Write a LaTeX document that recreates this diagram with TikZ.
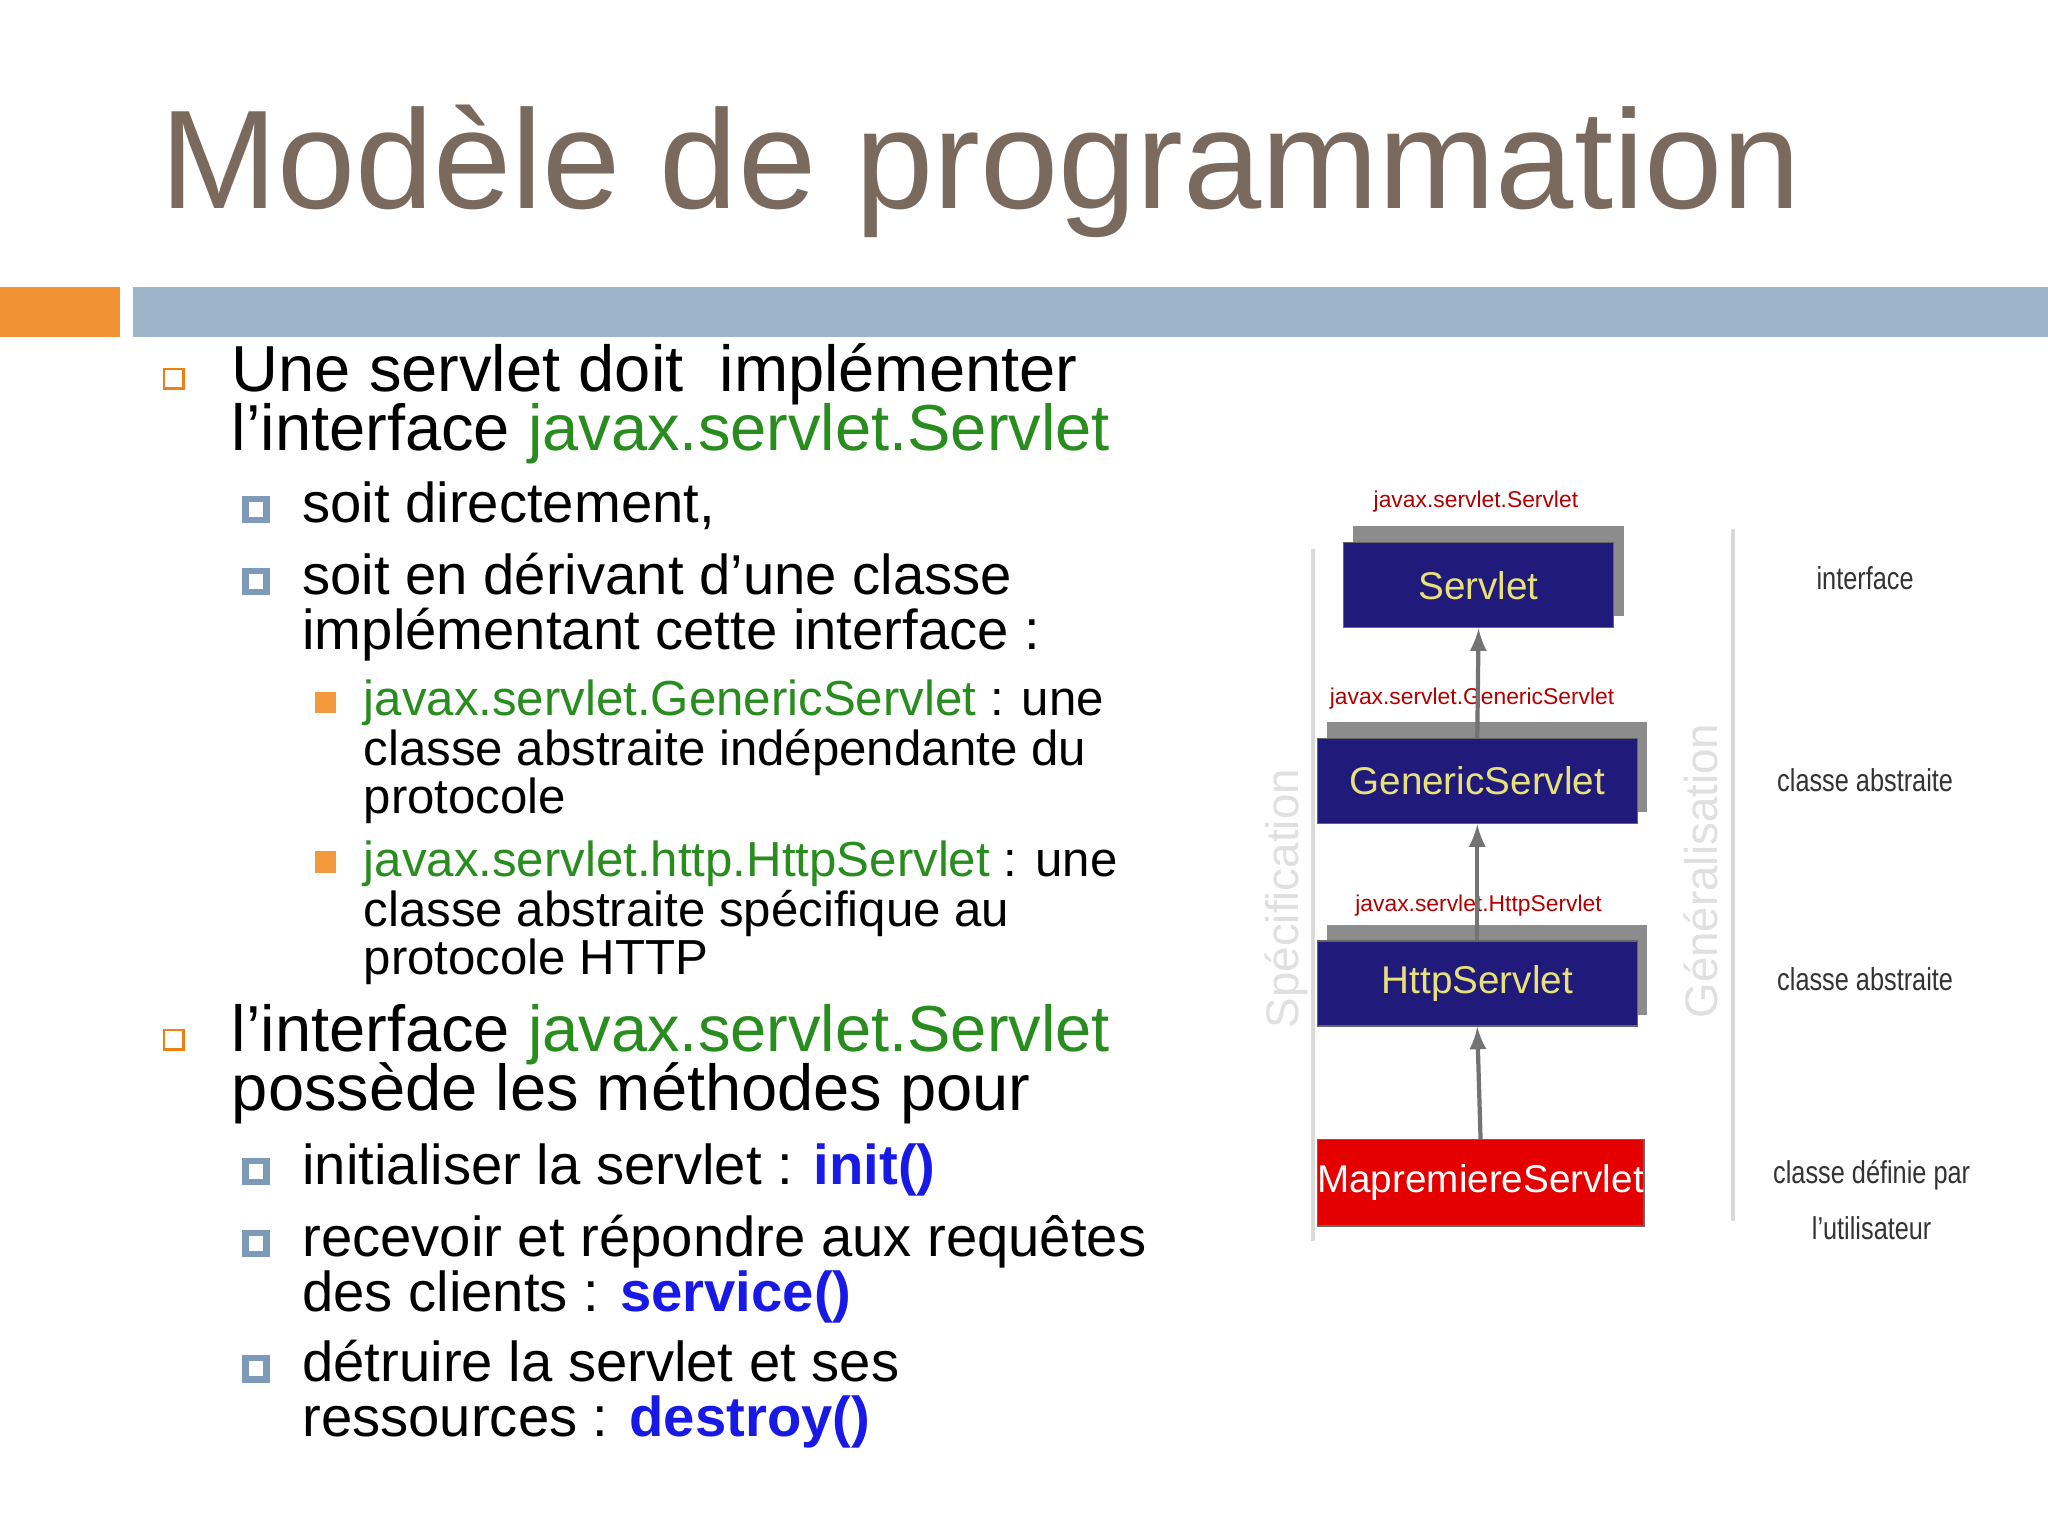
\documentclass[tikz,border=0pt]{standalone}
\usepackage{fontspec}
\setmainfont{Liberation Sans}
\begin{document}
\begin{tikzpicture}[x=0.01306cm,y=-0.01306cm,
  body/.style={anchor=base west,inner sep=0,font=\fontsize{18.5}{20}\selectfont},
  subl/.style={anchor=base west,inner sep=0,font=\fontsize{16}{18}\selectfont},
  subsub/.style={anchor=base west,inner sep=0,font=\fontsize{14}{16}\selectfont},
  bulA/.style={draw=orange!70!brown,line width=0.7pt,minimum size=5.5pt,inner sep=0},
  bulB/.style={draw=bgray,line width=1.8pt,minimum size=6pt,inner sep=0},
  bulC/.style={fill=orange!80!brown!80,minimum size=6pt,inner sep=0},
  cls/.style={draw=black!60,fill=navy,text=yel,anchor=north west,inner sep=0,font=\fontsize{11}{12}\selectfont},
  shad/.style={fill=black!45},
  tiny/.style={font=\fontsize{6.5}{7}\selectfont,text=red!70!black,inner sep=0},
  rlab/.style={font=\fontsize{9}{10}\selectfont,text=black!80,inner sep=0,xscale=0.8},
  arr/.style={draw=black!55,line width=1.2pt,-latex}]
\definecolor{grn}{RGB}{40,140,30}
\definecolor{blu}{RGB}{25,25,230}
\definecolor{bgray}{RGB}{125,155,185}
\definecolor{navy}{RGB}{32,26,122}
\definecolor{yel}{RGB}{232,224,120}
\definecolor{ttl}{RGB}{122,106,94}
\useasboundingbox (0,0) rectangle (1568,1176);
\fill[white] (0,0) rectangle (1568,1176);
\node[anchor=base west,inner sep=0,text=ttl,font=\fontsize{40}{44}\selectfont] (title) at (122,160) {Modèle de programmation};
\fill[orange!75!brown!85] (0,220) rectangle (92,258);
\fill[bgray!75] (102,220) rectangle (1568,258);
% level 1
\node[bulA] (b1) at (133,290) {};
\node[body] (t1) at (177,300) {Une servlet doit\ \ implémenter};
\node[body] (t2) at (177,345) {l’interface \textcolor{grn}{javax.servlet.Servlet}};
\node[bulB] (b2) at (196,390) {};
\node[subl] (t3) at (231,400) {soit directement,};
\node[bulB] (b3) at (196,445) {};
\node[subl] (t4) at (231,455) {soit en dérivant d’une classe};
\node[subl] (t5) at (231,497) {implémentant cette interface :};
\node[bulC] (b4) at (249,538) {};
\node[subsub] (t6) at (278,548) {\textcolor{grn}{javax.servlet.GenericServlet} : une};
\node[subsub] (t7) at (278,586) {classe abstraite indépendante du};
\node[subsub] (t8) at (278,623) {protocole};
\node[bulC] (b5) at (249,660) {};
\node[subsub] (t9) at (278,671) {\textcolor{grn}{javax.servlet.http.HttpServlet} : une};
\node[subsub] (t10) at (278,709) {classe abstraite spécifique au};
\node[subsub] (t11) at (278,746) {protocole HTTP};
\node[bulA] (b6) at (133,796) {};
\node[body] (t12) at (177,805) {l’interface \textcolor{grn}{javax.servlet.Servlet}};
\node[body] (t13) at (177,850) {possède les méthodes pour};
\node[bulB] (b7) at (196,897) {};
\node[subl] (t14) at (231,907) {initialiser la servlet : \textcolor{blu}{\bfseries init()}};
\node[bulB] (b8) at (196,952) {};
\node[subl] (t15) at (231,962) {recevoir et répondre aux requêtes};
\node[subl] (t16) at (231,1004) {des clients : \textcolor{blu}{\bfseries service()}};
\node[bulB] (b9) at (196,1048) {};
\node[subl] (t17) at (231,1100-42) {détruire la servlet et ses};
\node[subl] (t18) at (231,1100) {ressources : \textcolor{blu}{\bfseries destroy()}};
% diagram
\draw[black!15,line width=1.2pt] (1005,420) -- (1005,950);
\draw[black!15,line width=1.2pt] (1327,405) -- (1327,935);
\node[rotate=90,text=black!12,font=\fontsize{13}{14}\selectfont] (spec) at (985,688) {Spécification};
\node[rotate=90,text=black!12,font=\fontsize{13}{14}\selectfont] (gen) at (1302,667) {Généralisation};
\fill[shad] (1036,403) rectangle (1243,472);
\node[cls,minimum width=207*0.01306cm,minimum height=65*0.01306cm] (s) at (1028,415) {Servlet};
\fill[shad] (1016,553) rectangle (1261,622);
\node[cls,minimum width=245*0.01306cm,minimum height=65*0.01306cm] (g) at (1008,565) {GenericServlet};
\fill[shad] (1016,708) rectangle (1261,777);
\node[cls,minimum width=245*0.01306cm,minimum height=65*0.01306cm] (h) at (1008,720) {HttpServlet};
\node[cls,fill=red!90!black,text=white,minimum width=248*0.01306cm,minimum height=66*0.01306cm] (m) at (1008,872) {MapremiereServlet};
\node[tiny] (ls) at (1130,384) {javax.servlet.Servlet};
\node[tiny] (lg) at (1127,535) {javax.servlet.GenericServlet};
\node[tiny] (lh) at (1132,693) {javax.servlet.HttpServlet};
\draw[arr] (m.north) -- (h.south);
\draw[arr] (h.north) -- (g.south);
\draw[arr] (g.north) -- (s.south);
\node[rlab] (r1) at (1428,443) {interface};
\node[rlab] (r2) at (1428,597) {classe abstraite};
\node[rlab] (r3) at (1428,750) {classe abstraite};
\node[rlab] (r4) at (1433,900) {classe définie par};
\node[rlab] (r5) at (1433,940) {l’utilisateur};
\end{tikzpicture}
\end{document}
